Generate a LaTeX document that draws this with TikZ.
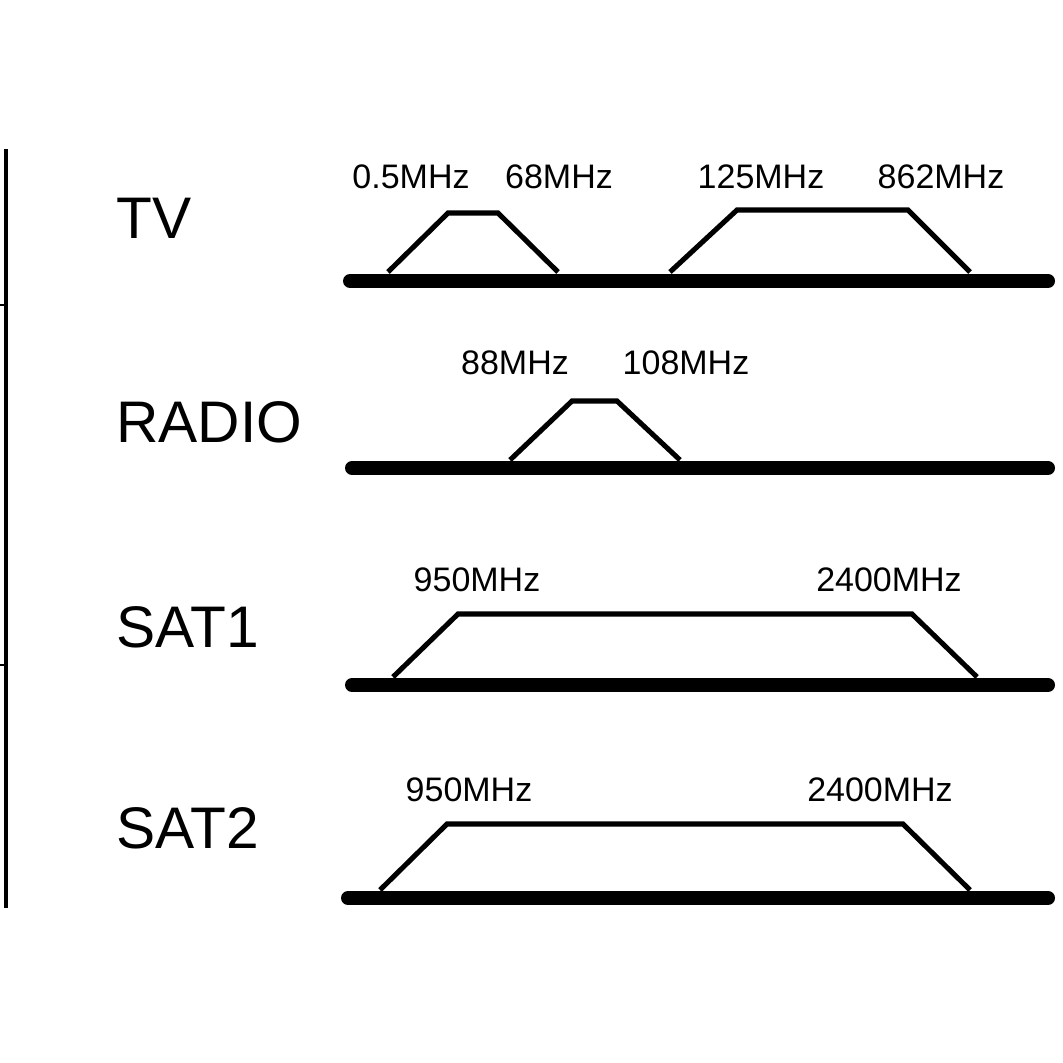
\documentclass[tikz,border=0pt]{standalone}
\usepackage{fontspec}
\setmainfont{Liberation Sans}
\begin{document}
\begin{tikzpicture}[x=0.75pt,y=-0.75pt,
  base/.style={line width=10.5pt,line cap=round},
  band/.style={line width=3.8pt,line join=miter},
  lab/.style={font=\fontsize{25.5}{28}\selectfont,inner sep=0pt},
  big/.style={font=\fontsize{44}{48}\selectfont,inner sep=0pt,anchor=west}]
\useasboundingbox (0,0) rectangle (1063,1063);
\draw[line width=3pt] (6,149) -- (6,908);
\draw[line width=0.8pt] (0,305) -- (6,305) (0,665) -- (6,665);
% TV
\node[big] (tv) at (116,218) {TV};
\draw[base] (350,281) -- (1048,281);
\draw[band] (388,272) -- (448,213) -- (498,213) -- (558,272);
\draw[band] (670,272) -- (737,210) -- (908,210) -- (970,272);
\node[lab] (t1) at (411,177) {0.5MHz};
\node[lab] (t2) at (559,177) {68MHz};
\node[lab] (t3) at (761,177) {125MHz};
\node[lab] (t4) at (941,177) {862MHz};
% RADIO
\node[big] (radio) at (116,422) {RADIO};
\draw[base] (352,468) -- (1048,468);
\draw[band] (510,460) -- (572,401) -- (617,401) -- (680,460);
\node[lab] (r1) at (515,363) {88MHz};
\node[lab] (r2) at (686,363) {108MHz};
% SAT1
\node[big] (s1) at (116,627) {SAT1};
\draw[base] (352,685) -- (1048,685);
\draw[band] (393,677) -- (458,614) -- (912,614) -- (977,677);
\node[lab] (a1) at (477,580) {950MHz};
\node[lab] (a2) at (889,580) {2400MHz};
% SAT2
\node[big] (s2) at (116,828) {SAT2};
\draw[base] (348,898) -- (1048,898);
\draw[band] (380,890) -- (447,824) -- (903,824) -- (970,890);
\node[lab] (b1) at (469,790) {950MHz};
\node[lab] (b2) at (880,790) {2400MHz};
\end{tikzpicture}
\end{document}
